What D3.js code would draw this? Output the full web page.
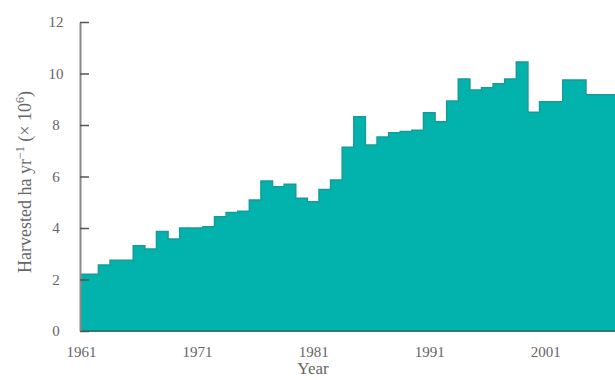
<!DOCTYPE html>
<html>
<head>
<meta charset="utf-8">
<script src="https://cdn.jsdelivr.net/npm/d3@7"></script>
<style>
  html, body { margin: 0; padding: 0; background: #fff; }
  svg { display: block; }
  text { font-family: "Liberation Serif", "DejaVu Serif", serif; fill: #666; }
</style>
</head>
<body>
<svg id="chart" width="615" height="380"></svg>
<script>
// Data
const years = [1961,1962,1963,1964,1965,1966,1967,1968,1969,1970,
               1971,1972,1973,1974,1975,1976,1977,1978,1979,1980,
               1981,1982,1983,1984,1985,1986,1987,1988,1989,1990,
               1991,1992,1993,1994,1995,1996,1997,1998,1999,2000,
               2001,2002,2003,2004,2005,2006,2007];
const harvested = [2.2,2.2,2.56,2.75,2.75,3.31,3.18,3.86,3.57,4.0,
                   4.0,4.05,4.44,4.6,4.65,5.09,5.83,5.6,5.7,5.16,
                   5.02,5.5,5.86,7.14,8.32,7.22,7.53,7.7,7.75,7.8,
                   8.48,8.13,8.93,9.79,9.36,9.45,9.6,9.79,10.45,8.5,
                   8.9,8.9,9.75,9.75,9.17,9.17,9.17];
const yTicks = [0,2,4,6,8,10,12];
const xTicks = [1961,1971,1981,1991,2001];

const data = years.map((yr, i) => ({year: yr, value: harvested[i]}));

const svg = d3.select("#chart");
const x = d3.scaleLinear().domain([1961, 2007]).range([81, 615]);
const y = d3.scaleLinear().domain([0, 12]).range([331, 22]);

// area
const area = d3.area()
  .curve(d3.curveStep)
  .x(d => x(d.year))
  .y0(y(0))
  .y1(d => y(d.value));
svg.append("path").datum(data)
  .attr("d", area)
  .attr("fill", "#02b3ad");

const line = d3.line()
  .curve(d3.curveStep)
  .x(d => x(d.year))
  .y(d => y(d.value));
svg.append("path").datum(data)
  .attr("d", line)
  .attr("fill", "none")
  .attr("stroke", "#169c96")
  .attr("stroke-width", 1.5);

// x axis baseline
svg.append("line")
  .attr("x1", 80).attr("x2", 615)
  .attr("y1", y(0)).attr("y2", y(0))
  .attr("stroke", "#2f7a77").attr("stroke-width", 2);

// y axis
const yAxis = d3.axisLeft(y).tickValues(yTicks).tickSizeInner(-9).tickSizeOuter(0).tickPadding(0);
const gy = svg.append("g").attr("transform", "translate(80,0)").call(yAxis);
gy.select(".domain").attr("stroke", "#8a8a8a").attr("stroke-width", 2);
gy.selectAll(".tick line").attr("stroke", "#555").attr("stroke-width", 1.5);
gy.selectAll(".tick text")
  .attr("x", -24)
  .attr("text-anchor", "middle")
  .attr("font-size", 15)
  .attr("font-family", "Liberation Serif, serif")
  .attr("fill", "#666");

// x tick labels
const xAxis = d3.axisBottom(x).tickValues(xTicks).tickFormat(d3.format("d")).tickSize(0).tickPadding(0);
const gx = svg.append("g").attr("transform", "translate(0," + y(0) + ")").call(xAxis);
gx.select(".domain").remove();
gx.selectAll(".tick text")
  .attr("y", 26).attr("dy", 0)
  .attr("font-size", 15)
  .attr("font-family", "Liberation Serif, serif")
  .attr("fill", "#666");

// axis titles
svg.append("text")
  .attr("x", 313).attr("y", 374)
  .attr("text-anchor", "middle")
  .attr("font-size", 17)
  .text("Year");

const yl = svg.append("text")
  .attr("transform", "translate(31,182) rotate(-90)")
  .attr("text-anchor", "middle")
  .attr("font-size", 18);
yl.append("tspan").text("Harvested ha yr");
yl.append("tspan").attr("dy", -7).attr("font-size", 12).text("−1");
yl.append("tspan").attr("dy", 7).text(" (× 10");
yl.append("tspan").attr("dy", -7).attr("font-size", 12).text("6");
yl.append("tspan").attr("dy", 7).text(")");
</script>
</body>
</html>
